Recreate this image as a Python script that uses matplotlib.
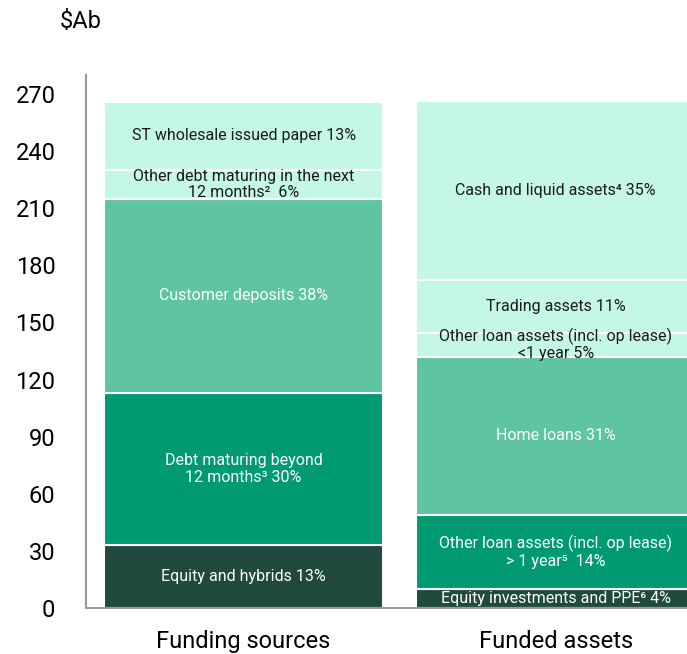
import matplotlib
matplotlib.use("Agg")
import matplotlib.pyplot as plt

plt.rcParams['font.family'] = ['Roboto', 'DejaVu Sans']

categories = ["Funding sources", "Funded assets"]

# stacked segments, bottom to top ($A billions)
funding_labels = [
    "Equity and hybrids 13%",
    "Debt maturing beyond\n12 months³ 30%",
    "Customer deposits 38%",
    "Other debt maturing in the next\n12 months²  6%",
    "ST wholesale issued paper 13%",
]
funding_values = [33, 80, 102, 15, 36]

assets_labels = [
    "Equity investments and PPE⁶ 4%",
    "Other loan assets (incl. op lease)\n> 1 year⁵  14%",
    "Home loans 31%",
    "Other loan assets (incl. op lease)\n<1 year 5%",
    "Trading assets 11%",
    "Cash and liquid assets⁴ 35%",
]
assets_values = [10, 39, 83, 12.7, 27.5, 94]

darkest = "#1f4a3d"
dark = "#009a72"
medium = "#5ec4a2"
light = "#c5f7e8"

funding_colors = [darkest, dark, medium, light, light]
assets_colors = [darkest, dark, medium, light, light, light]

fig = plt.figure(figsize=(6.87, 6.54), dpi=100)
ax = fig.add_axes([86 / 687, 46 / 654, 601 / 687, 533 / 654])

width = 0.894
for xpos, vals, labs, cols in [(0, funding_values, funding_labels, funding_colors),
                               (1, assets_values, assets_labels, assets_colors)]:
    bottom = 0
    for v, lab, c in zip(vals, labs, cols):
        ax.bar(xpos, v, width=width, bottom=bottom, color=c, edgecolor="white", linewidth=1.5)
        tcol = "#1a1a1a" if c == light else "white"
        ax.text(xpos, bottom + v / 2, lab, ha="center", va="center",
                color=tcol, fontsize=11.5, linespacing=1.1)
        bottom += v

ax.set_xlim(-0.505, 1.421)
ax.set_ylim(0, 280)
ax.set_yticks(range(0, 271, 30))
ax.set_xticks([0, 1])
ax.set_xticklabels(categories)
ax.tick_params(axis="both", length=0, labelsize=17)
ax.tick_params(axis="y", pad=22)
ax.tick_params(axis="x", pad=16)
for s in ["top", "right"]:
    ax.spines[s].set_visible(False)
for s in ["left", "bottom"]:
    ax.spines[s].set_color("#999999")
    ax.spines[s].set_linewidth(1.5)

fig.text(60 / 687, 1 - 22 / 654, "$Ab", fontsize=17, ha="left", va="center")

fig.savefig("out.png", dpi=100)
